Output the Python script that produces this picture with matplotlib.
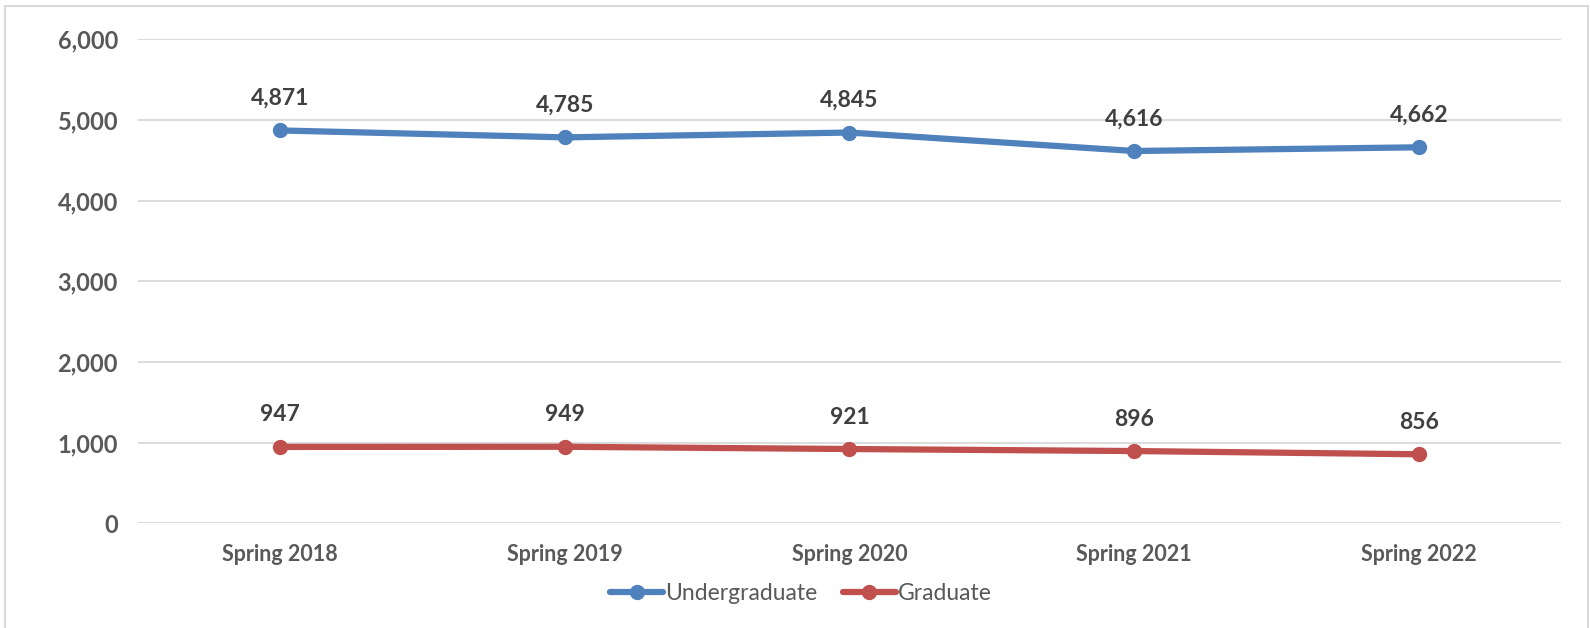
import matplotlib.pyplot as plt
from matplotlib.patches import Rectangle

# data
terms = ['Spring 2018', 'Spring 2019', 'Spring 2020', 'Spring 2021', 'Spring 2022']
undergrad = [4871, 4785, 4845, 4616, 4662]
grad = [947, 949, 921, 896, 856]

plt.rcParams['font.family'] = ['Lato', 'DejaVu Sans']

fig = plt.figure(figsize=(15.9, 6.28), dpi=100)
ax = fig.add_axes([0.0865, 0.1667, 0.8955, 0.7706])

# outer chart frame
fig.patches.append(Rectangle((5 / 1590, -0.01), 1583 / 1590, 1 - 6 / 628 + 0.01,
                             transform=fig.transFigure, fill=False,
                             edgecolor='#D9D9D9', linewidth=1.5))

x = list(range(len(terms)))
ax.plot(x, undergrad, color='#4F81BD', linewidth=4.5, marker='o', markersize=10,
        label='Undergraduate', solid_capstyle='round')
ax.plot(x, grad, color='#C0504D', linewidth=4.5, marker='o', markersize=10,
        label='Graduate', solid_capstyle='round')

for xi, v in zip(x, undergrad):
    ax.annotate(f'{v:,}', (xi, v), xytext=(0, 23), textcoords='offset points',
                ha='center', va='center', fontsize=16.5, fontweight='bold', color='#404040')
for xi, v in zip(x, grad):
    ax.annotate(f'{v:,}', (xi, v), xytext=(0, 23), textcoords='offset points',
                ha='center', va='center', fontsize=16.5, fontweight='bold', color='#404040')

ax.set_xlim(-0.5, len(terms) - 0.5)
ax.set_ylim(0, 6000)
ax.set_yticks(range(0, 6001, 1000))
ax.set_yticklabels([f'{t:,}' for t in range(0, 6001, 1000)])
ax.set_xticks(x)
ax.set_xticklabels(terms)

ax.grid(axis='y', color='#D9D9D9', linewidth=1.3)
ax.set_axisbelow(True)
for s in ax.spines.values():
    s.set_visible(False)
ax.tick_params(length=0, labelcolor='#595959')
ax.tick_params(axis='y', pad=14, labelsize=17)
ax.tick_params(axis='x', pad=15, labelsize=15.5)
for lbl in ax.get_xticklabels() + ax.get_yticklabels():
    lbl.set_fontweight('bold')

ax.legend(loc='center', bbox_to_anchor=(0.466, -0.145), ncol=2, frameon=False,
          fontsize=16.5, labelcolor='#595959', handlelength=2.3, handletextpad=0.1,
          columnspacing=1.1)

fig.savefig('out.png', dpi=100)
